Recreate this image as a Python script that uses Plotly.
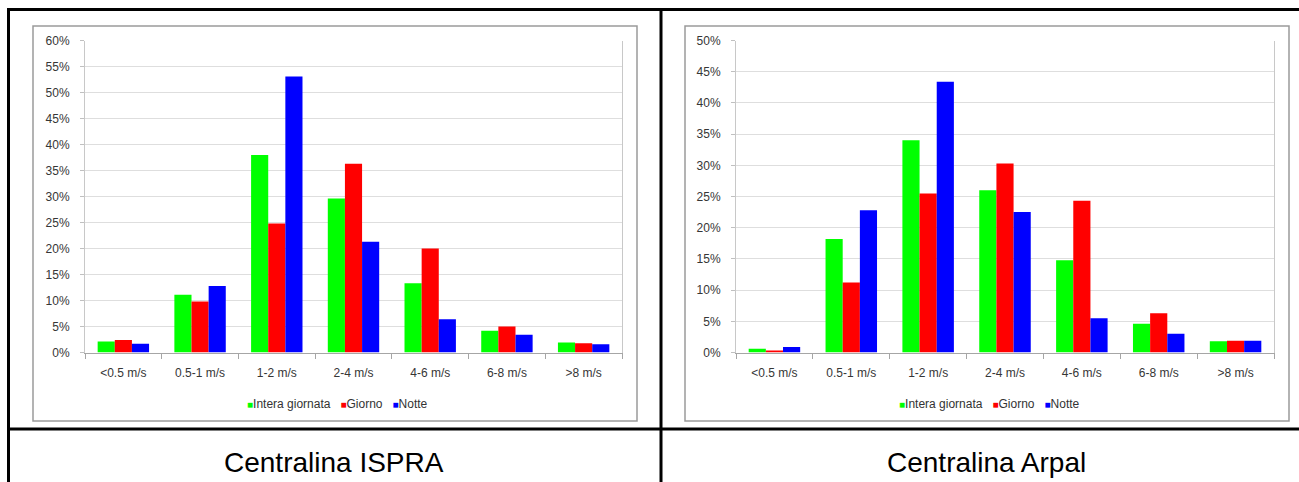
import plotly.graph_objects as go

# Wind speed classes and frequency of occurrence (fraction of hours)
categories = ["<0.5 m/s", "0.5-1 m/s", "1-2 m/s", "2-4 m/s", "4-6 m/s", "6-8 m/s", ">8 m/s"]
series_names = ["Intera giornata", "Giorno", "Notte"]
series_colors = ["#00FF00", "#FF0000", "#0000FF"]

ispra_intera = [0.021, 0.111, 0.380, 0.296, 0.133, 0.042, 0.019]
ispra_giorno = [0.024, 0.098, 0.248, 0.363, 0.200, 0.050, 0.018]
ispra_notte = [0.017, 0.128, 0.531, 0.213, 0.064, 0.034, 0.016]

arpal_intera = [0.006, 0.182, 0.340, 0.260, 0.148, 0.046, 0.018]
arpal_giorno = [0.003, 0.112, 0.255, 0.303, 0.243, 0.063, 0.019]
arpal_notte = [0.009, 0.228, 0.434, 0.225, 0.055, 0.030, 0.019]

panel_titles = ["Centralina ISPRA", "Centralina Arpal"]
y_max = [0.60, 0.50]

W, H = 1299, 482


def px(x):
    return x / W


def py(y):
    return 1 - y / H


fig = go.Figure()

panels = [
    ("x", "y", [ispra_intera, ispra_giorno, ispra_notte]),
    ("x2", "y2", [arpal_intera, arpal_giorno, arpal_notte]),
]
for xa, ya, values in panels:
    for name, color, vals in zip(series_names, series_colors, values):
        fig.add_trace(go.Bar(
            x=categories, y=vals, name=name, xaxis=xa, yaxis=ya,
            marker=dict(color=color, line=dict(width=0)),
            showlegend=False,
        ))

tick_font = dict(family="Liberation Sans, Arial, sans-serif", size=12, color="#363636")

xaxis_common = dict(
    type="category", tickson="boundaries", ticks="outside", ticklen=5,
    tickcolor="#a6a6a6", showline=True, linecolor="#a6a6a6", linewidth=1,
    showgrid=False, tickfont=tick_font, ticklabelstandoff=9, fixedrange=True,
    automargin=False,
)
yaxis_common = dict(
    dtick=0.05, tickformat=".0%", ticks="outside", ticklen=4,
    tickcolor="#c0c0c0", showline=True, linecolor="#c8c8c8", linewidth=1,
    mirror=True, showgrid=True, gridcolor="#dedede", gridwidth=1,
    zeroline=False, tickfont=tick_font, ticklabelstandoff=8, fixedrange=True,
    automargin=False,
)

y_dom = [py(352.5), py(40.5)]
fig.update_layout(
    width=W, height=H, autosize=False,
    margin=dict(l=0, r=0, t=0, b=0, pad=0, autoexpand=False),
    paper_bgcolor="white", plot_bgcolor="white",
    barmode="group", bargap=0.33, bargroupgap=0.0,
    xaxis=dict(domain=[px(85), px(622)], anchor="y", **xaxis_common),
    yaxis=dict(domain=y_dom, anchor="x", range=[0, y_max[0]], **yaxis_common),
    xaxis2=dict(domain=[px(736), px(1274)], anchor="y2", **xaxis_common),
    yaxis2=dict(domain=y_dom, anchor="x2", range=[0, y_max[1]], **yaxis_common),
)

# Chart area frames
frames = [(33, 637), (685, 1289)]
for x0, x1 in frames:
    fig.add_shape(type="rect", xref="paper", yref="paper",
                  x0=px(x0), x1=px(x1), y0=py(421), y1=py(26),
                  line=dict(color="#9a9a9a", width=1.5), fillcolor="rgba(0,0,0,0)",
                  layer="below")

# Table lines
black = dict(color="black", width=3)
fig.add_shape(type="line", xref="paper", yref="paper", x0=px(7), x1=1, y0=py(9.5), y1=py(9.5), line=black)
fig.add_shape(type="line", xref="paper", yref="paper", x0=px(7), x1=1, y0=py(429), y1=py(429), line=black)
fig.add_shape(type="line", xref="paper", yref="paper", x0=px(8.5), x1=px(8.5), y0=py(8), y1=0, line=black)
fig.add_shape(type="line", xref="paper", yref="paper", x0=px(661), x1=px(661), y0=py(8), y1=0, line=black)

# Legends (one per chart) and panel captions
legend_text = "&nbsp;&nbsp;&nbsp;".join(
    f"<span style='color:{c};font-size:10px'>■</span>{n}"
    for n, c in zip(series_names, series_colors)
)
for (x0, x1), title, cx in zip(frames, panel_titles, [334.5, 987]):
    fig.add_annotation(xref="paper", yref="paper", x=px((x0 + x1) / 2 + 2), y=py(404),
                       text=legend_text, showarrow=False, xanchor="center", yanchor="middle",
                       font=dict(family="Liberation Sans, Arial, sans-serif", size=12, color="#333333"))
    fig.add_annotation(xref="paper", yref="paper", x=px(cx), y=py(462),
                       text=title, showarrow=False, xanchor="center", yanchor="middle",
                       font=dict(family="Liberation Sans, Arial, sans-serif", size=28, color="black"))

fig.write_html("out.html", config={"displayModeBar": False})
